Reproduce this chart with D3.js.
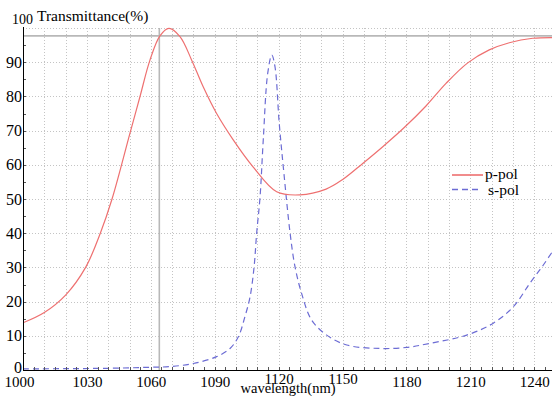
<!DOCTYPE html>
<html><head><meta charset="utf-8">
<script src="https://cdn.jsdelivr.net/npm/d3@7"></script>
<style>
html,body{margin:0;padding:0;background:#fff;}
svg{display:block;}
</style></head>
<body>
<svg id="chart" width="552" height="396"></svg>
<script>
// ---- data ----
const pWl = [1000,1010,1020,1029.4,1036.3,1041.8,1050.2,1054.9,1059.6,1064.3,1068.5,1073.7,1079.2,1084.6,1090.9,1098.7,1108,1119.1,1129.9,1142.3,1150.1,1159.5,1168.9,1179,1189.2,1198.6,1208.8,1218.9,1228.3,1239.3,1250];
const pT  = [13.8,16.8,21.9,30,40,50,69.2,79.9,90.6,97.7,99.9,97.5,90.6,82.8,75,67.3,59.4,52.1,51.2,52.9,55.7,60.4,65.3,70.9,77.2,83.8,89.8,93.6,95.7,97,97.2];
const sWl = [1000,1020,1040,1059.6,1069,1080,1090.9,1097.2,1101.1,1104.2,1106.6,1108.5,1109.7,1111.3,1112.8,1114.9,1116.8,1118.3,1120.3,1122.5,1125.4,1127.7,1130.8,1135.5,1142.6,1152,1167.6,1180.1,1191.1,1208.3,1220.8,1230.2,1238,1244.3,1250];
const sT  = [0.3,0.4,0.5,0.8,1.0,1.9,3.9,6.3,9.7,15.6,21.4,30.2,40,50.7,67.3,86.8,92.1,88.7,72.1,57.5,40,30.2,22.4,14.6,10.2,7.3,6.3,6.6,7.8,10.2,13.7,18.5,25.4,30.7,36];
const xTickLabels = [1000,1030,1060,1090,1120,1150,1180,1210,1240];
const yTickLabels = [0,10,20,30,40,50,60,70,80,90];
const seriesNames = ["p-pol","s-pol"];
const refWl = 1064, refT = 97.7;

// ---- layout ----
const FONT = "'Liberation Serif','Times New Roman','DejaVu Serif',serif";
const svg = d3.select("#chart");
const W = 552, H = 396;
const x = d3.scaleLinear().domain([1000,1250]).range([23,555.5]);
const y = d3.scaleLinear().domain([0,100]).range([370,28]);
const x0 = 23, x1 = W, y0 = 370, yTop = 28;

svg.append("rect").attr("width",W).attr("height",H).attr("fill","#fff");

// grid
const gGrid = svg.append("g").attr("stroke","#c4c4c4").attr("stroke-dasharray","1,2").attr("stroke-width",1);
d3.range(1010,1251,10).forEach(v=>{
  gGrid.append("line").attr("x1",Math.round(x(v))+0.5).attr("x2",Math.round(x(v))+0.5).attr("y1",yTop).attr("y2",y0);
});
d3.range(10,101,10).forEach(v=>{
  gGrid.append("line").attr("x1",x0).attr("x2",x1).attr("y1",Math.round(y(v))+0.5).attr("y2",Math.round(y(v))+0.5);
});

// reference lines at 1064 nm
svg.append("line").attr("x1",x(refWl)).attr("x2",x(refWl)).attr("y1",yTop).attr("y2",y0)
  .attr("stroke","#b8b8b8").attr("stroke-width",1.6);
svg.append("line").attr("x1",x0).attr("x2",x1).attr("y1",y(refT)).attr("y2",y(refT))
  .attr("stroke","#b8b8b8").attr("stroke-width",1.6);

// clip
svg.append("clipPath").attr("id","clip").append("rect").attr("x",x0).attr("y",yTop-2).attr("width",W-x0).attr("height",y0-yTop+3);

const line = d3.line().x(d=>x(d[0])).y(d=>y(d[1])).curve(d3.curveCatmullRom.alpha(0.5));
const pData = pWl.map((w,i)=>[w,pT[i]]);
const sData = sWl.map((w,i)=>[w,sT[i]]);
const red = "#ee7070", blue = "#6c6cd4";

svg.append("path").datum(sData).attr("d",line).attr("clip-path","url(#clip)")
  .attr("fill","none").attr("stroke",blue).attr("stroke-width",1.2).attr("stroke-dasharray","6,4");
svg.append("path").datum(pData).attr("d",line).attr("clip-path","url(#clip)")
  .attr("fill","none").attr("stroke",red).attr("stroke-width",1.2);

// axes
const yAxis = d3.axisLeft(y).tickValues(yTickLabels).tickFormat(d3.format("d")).tickSize(0).tickPadding(1);
const gy = svg.append("g").attr("transform",`translate(${x0},0)`).call(yAxis).attr("font-family",FONT).attr("font-size",16);
gy.select(".domain").remove();
gy.selectAll("text").attr("fill","#000").attr("y",d=>d===0?-3:0);

const xAxis = d3.axisBottom(x).tickValues(xTickLabels).tickFormat(d3.format("d")).tickSize(0).tickPadding(6);
const gx = svg.append("g").attr("transform",`translate(0,${y0})`).call(xAxis).attr("font-family",FONT).attr("font-size",15);
gx.select(".domain").remove();
gx.selectAll("text").attr("fill","#000")
  .attr("dx",d=>d===1000?-4:0)
  .attr("y",d=>(d===1120||d===1150)?3:6);

// minor ticks
const gt = svg.append("g").attr("stroke","#555").attr("stroke-width",1);
d3.range(5,100,5).forEach(v=>{
  gt.append("line").attr("x1",x0).attr("x2",x0+3).attr("y1",Math.round(y(v))+0.5).attr("y2",Math.round(y(v))+0.5);
});
d3.range(1005,1251,5).forEach(v=>{
  gt.append("line").attr("x1",Math.round(x(v))+0.5).attr("x2",Math.round(x(v))+0.5).attr("y1",y0).attr("y2",y0-3);
});

// axis lines
svg.append("line").attr("x1",x0+0.5).attr("x2",x0+0.5).attr("y1",yTop-1).attr("y2",y0).attr("stroke","#000").attr("stroke-width",1);
svg.append("line").attr("x1",x0).attr("x2",x1).attr("y1",y0+0.5).attr("y2",y0+0.5).attr("stroke","#000").attr("stroke-width",1);

// titles
const tg = svg.append("g").attr("font-family",FONT).attr("fill","#000");
tg.append("text").attr("x",12).attr("y",24.3).attr("font-size",14).text("100");
tg.append("text").attr("x",37).attr("y",21).attr("font-size",15.5).text("Transmittance(%)");
tg.append("text").attr("x",288).attr("y",392.5).attr("text-anchor","middle").attr("font-size",14.5).text("wavelength(nm)");

// legend
const lg = svg.append("g").attr("font-family",FONT);
lg.append("line").attr("x1",452).attr("x2",483).attr("y1",175).attr("y2",175).attr("stroke",red).attr("stroke-width",1.6);
lg.append("line").attr("x1",452).attr("x2",482).attr("y1",189.5).attr("y2",189.5).attr("stroke",blue).attr("stroke-width",1.6).attr("stroke-dasharray","6,4");
lg.append("text").attr("x",485).attr("y",179).attr("font-size",15.5).text(seriesNames[0]);
lg.append("text").attr("x",488).attr("y",195).attr("font-size",15.5).text(seriesNames[1]);
</script>
</body></html>
